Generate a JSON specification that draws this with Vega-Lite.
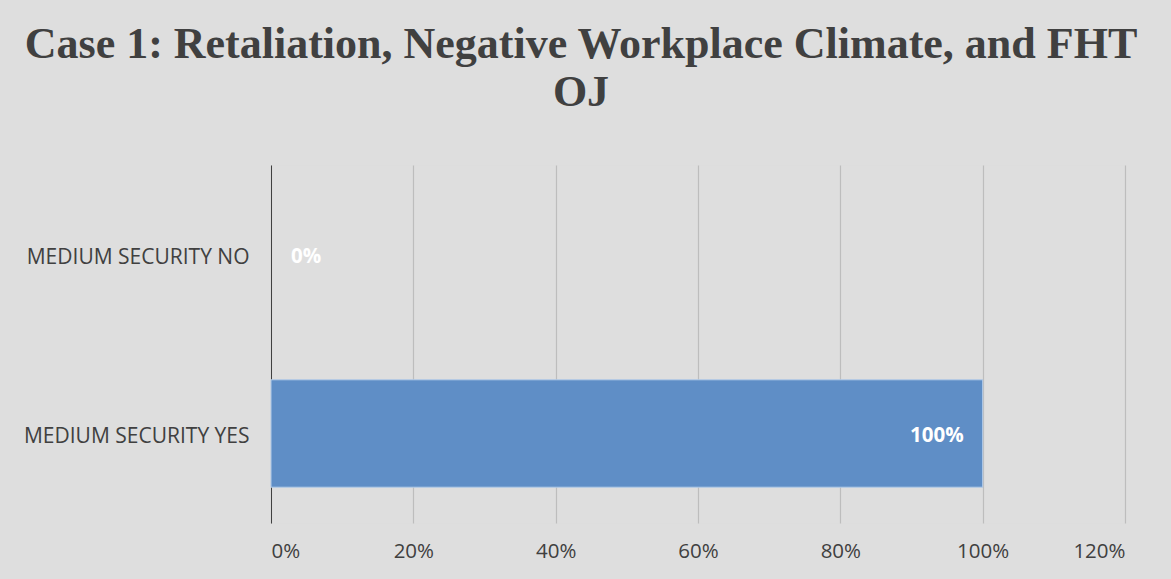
{
  "$schema": "https://vega.github.io/schema/vega-lite/v6.json",
  "width": 854,
  "height": 358,
  "autosize": {"type": "none"},
  "padding": {"left": 271, "top": 165, "right": 46, "bottom": 56},
  "background": "#dedede",
  "title": {
    "text": ["Case 1: Retaliation, Negative Workplace Climate, and FHT", "OJ"],
    "font": "Liberation Serif",
    "fontWeight": "bold",
    "fontSize": 44,
    "color": "#404040",
    "anchor": "middle",
    "dx": -117,
    "lineHeight": 48,
    "offset": 50
  },
  "data": {
    "values": [
      {"category": "MEDIUM SECURITY NO", "value": 0},
      {"category": "MEDIUM SECURITY YES", "value": 1}
    ]
  },
  "encoding": {
    "y": {
      "field": "category",
      "type": "nominal",
      "sort": ["MEDIUM SECURITY NO", "MEDIUM SECURITY YES"],
      "scale": {"paddingInner": 0.4, "paddingOuter": 0.2},
      "axis": {
        "title": null,
        "ticks": false,
        "domain": true,
        "domainColor": "#404040",
        "domainWidth": 1,
        "labelFont": "Open Sans",
        "labelFontSize": 21,
        "labelColor": "#404040",
        "labelPadding": 22,
        "labelOffset": 3,
        "labelLimit": 300,
        "grid": false
      }
    },
    "x": {
      "field": "value",
      "type": "quantitative",
      "scale": {"domain": [0, 1.2], "nice": false},
      "axis": {
        "title": null,
        "format": ".0%",
        "values": [0, 0.2, 0.4, 0.6, 0.8, 1, 1.2],
        "ticks": false,
        "domain": false,
        "grid": true,
        "gridColor": "#bdbdbd",
        "gridWidth": 1.2,
        "labelFont": "Open Sans",
        "labelFontSize": 20.5,
        "labelColor": "#404040",
        "labelPadding": 18
      }
    }
  },
  "layer": [
    {
      "transform": [{"filter": "datum.value > 0"}],
      "mark": {"type": "bar", "color": "#5f8ec6", "stroke": "#b3cbe8", "strokeWidth": 1}
    },
    {
      "transform": [{"filter": "datum.value > 0"}],
      "mark": {"type": "text", "align": "right", "dx": -19, "dy": 2, "color": "white", "fontWeight": "bold", "font": "Open Sans", "fontSize": 20.5},
      "encoding": {"text": {"field": "value", "type": "quantitative", "format": ".0%"}}
    },
    {
      "transform": [{"filter": "datum.value == 0"}],
      "mark": {"type": "text", "align": "left", "dx": 20, "dy": 2, "color": "white", "fontWeight": "bold", "font": "Open Sans", "fontSize": 20.5},
      "encoding": {"text": {"field": "value", "type": "quantitative", "format": ".0%"}}
    }
  ]
}
